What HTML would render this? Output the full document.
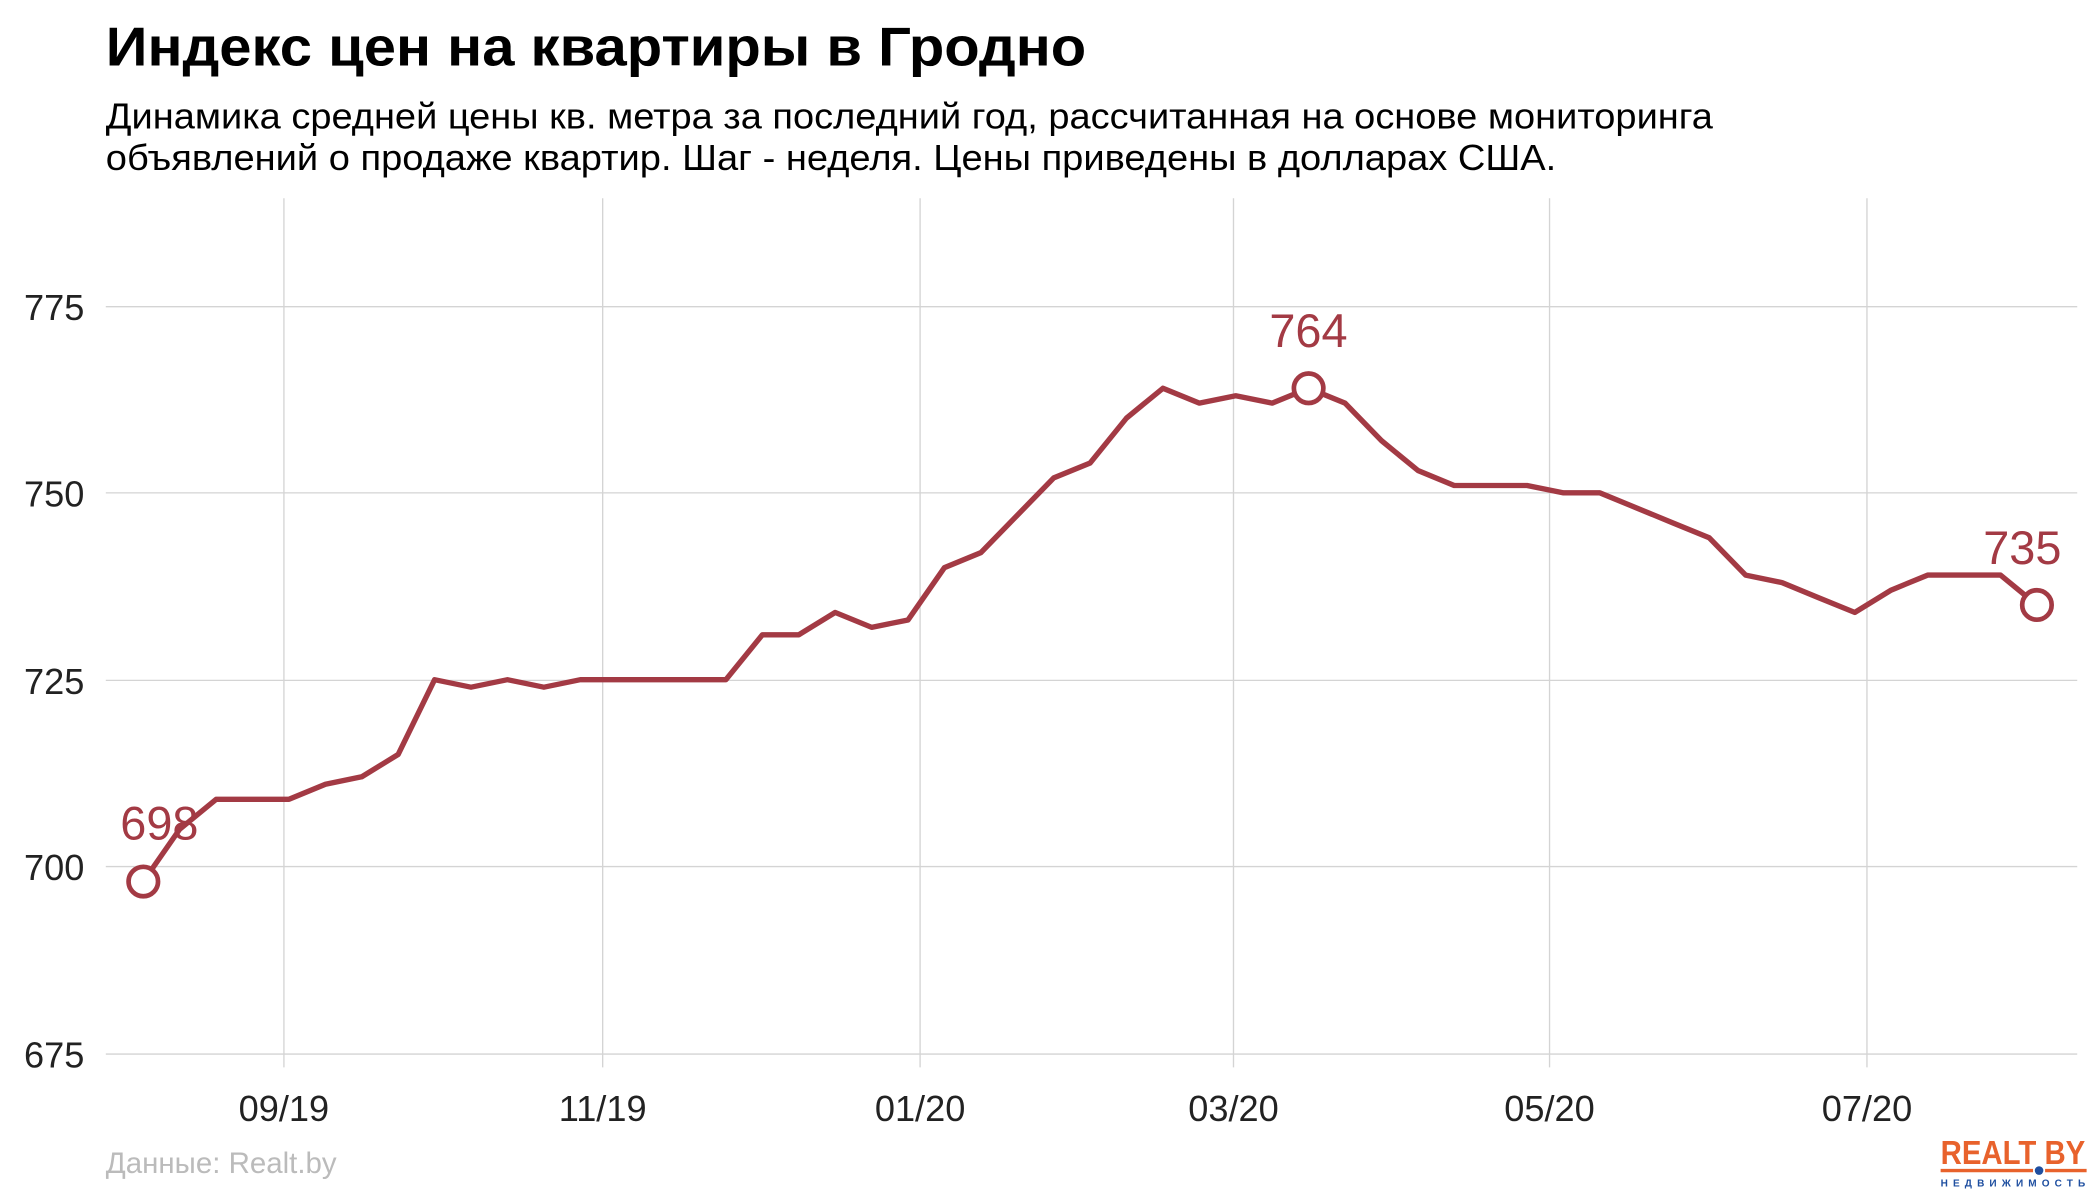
<!DOCTYPE html>
<html><head><meta charset="utf-8"><style>
html,body{margin:0;padding:0;background:#fff;}
svg{display:block;}
text{font-family:"Liberation Sans",Arial,sans-serif;}
</style></head><body>
<svg width="2100" height="1200" viewBox="0 0 1568 896" xmlns="http://www.w3.org/2000/svg">
<rect width="1568" height="896" fill="#fff"/>
<text x="79" y="49" font-size="41" font-weight="bold" fill="#000" textLength="732" lengthAdjust="spacingAndGlyphs">Индекс цен на квартиры в Гродно</text>
<text x="79" y="96" font-size="27" fill="#000" textLength="1200" lengthAdjust="spacingAndGlyphs">Динамика средней цены кв. метра за последний год, рассчитанная на основе мониторинга</text>
<text x="79" y="127" font-size="27" fill="#000" textLength="1083" lengthAdjust="spacingAndGlyphs">объявлений о продаже квартир. Шаг - неделя. Цены приведены в долларах США.</text>
<g stroke="#d4d4d4" stroke-width="1">
<line x1="79" y1="229" x2="1551" y2="229"/>
<line x1="79" y1="368" x2="1551" y2="368"/>
<line x1="79" y1="508" x2="1551" y2="508"/>
<line x1="79" y1="647" x2="1551" y2="647"/>
<line x1="79" y1="787" x2="1551" y2="787"/>
<line x1="212" y1="148" x2="212" y2="797"/>
<line x1="450" y1="148" x2="450" y2="797"/>
<line x1="687" y1="148" x2="687" y2="797"/>
<line x1="921" y1="148" x2="921" y2="797"/>
<line x1="1157" y1="148" x2="1157" y2="797"/>
<line x1="1394" y1="148" x2="1394" y2="797"/>
</g>
<g font-size="27" fill="#222" text-anchor="end">
<text x="63" y="239">775</text>
<text x="63" y="378">750</text>
<text x="63" y="518">725</text>
<text x="63" y="657">700</text>
<text x="63" y="797">675</text>
</g>
<g font-size="27" fill="#222" text-anchor="middle">
<text x="212" y="837">09/19</text>
<text x="450" y="837">11/19</text>
<text x="687" y="837">01/20</text>
<text x="921" y="837">03/20</text>
<text x="1157" y="837">05/20</text>
<text x="1394" y="837">07/20</text>
</g>
<polyline fill="none" stroke="#a33a44" stroke-width="4" stroke-linejoin="round" points="107,658.2 134.2,619.1 161.4,596.8 188.6,596.8 215.8,596.8 243,585.6 270.1,580 297.3,563.3 324.5,507.5 351.7,513.1 378.9,507.5 406.1,513.1 433.3,507.5 460.5,507.5 487.7,507.5 514.9,507.5 542,507.5 569.2,474 596.4,474 623.6,457.3 650.8,468.4 678,462.9 705.2,423.8 732.4,412.6 759.6,384.7 786.8,356.8 814,345.7 841.1,312.2 868.3,289.9 895.5,301 922.7,295.5 949.9,301 977.1,289.9 1004.3,301 1031.5,329 1058.7,351.3 1085.8,362.5 1113,362.5 1140.2,362.5 1167.4,368 1194.6,368 1221.8,379.2 1249,390.4 1276.2,401.5 1303.4,429.4 1330.6,435 1357.7,446.2 1384.9,457.3 1412.1,440.6 1439.3,429.4 1466.5,429.4 1493.7,429.4 1520.9,451.7"/>
<g fill="#fff" stroke="#a33a44" stroke-width="3.5">
<circle cx="107" cy="658.2" r="11"/>
<circle cx="977.1" cy="289.9" r="11"/>
<circle cx="1520.9" cy="451.7" r="11"/>
</g>
<g font-size="35" fill="#a33a44" text-anchor="middle">
<text x="119" y="627">698</text>
<text x="977" y="259">764</text>
<text x="1510" y="421">735</text>
</g>
<text x="79" y="876" font-size="22" fill="#bbb">Данные: Realt.by</text>
<text x="1503" y="869" font-size="25" font-weight="bold" fill="#e8622c" text-anchor="middle" textLength="108" lengthAdjust="spacingAndGlyphs">REALT BY</text>
<line x1="1449" y1="874" x2="1518" y2="874" stroke="#e8622c" stroke-width="2.5"/>
<line x1="1527" y1="874" x2="1558" y2="874" stroke="#e8622c" stroke-width="2.5"/>
<circle cx="1522.5" cy="874" r="3.2" fill="#1f4fa0"/>
<text x="1503" y="886" font-size="7.5" font-weight="bold" fill="#1f4fa0" text-anchor="middle" textLength="108" lengthAdjust="spacing">НЕДВИЖИМОСТЬ</text>
</svg>
</body></html>
